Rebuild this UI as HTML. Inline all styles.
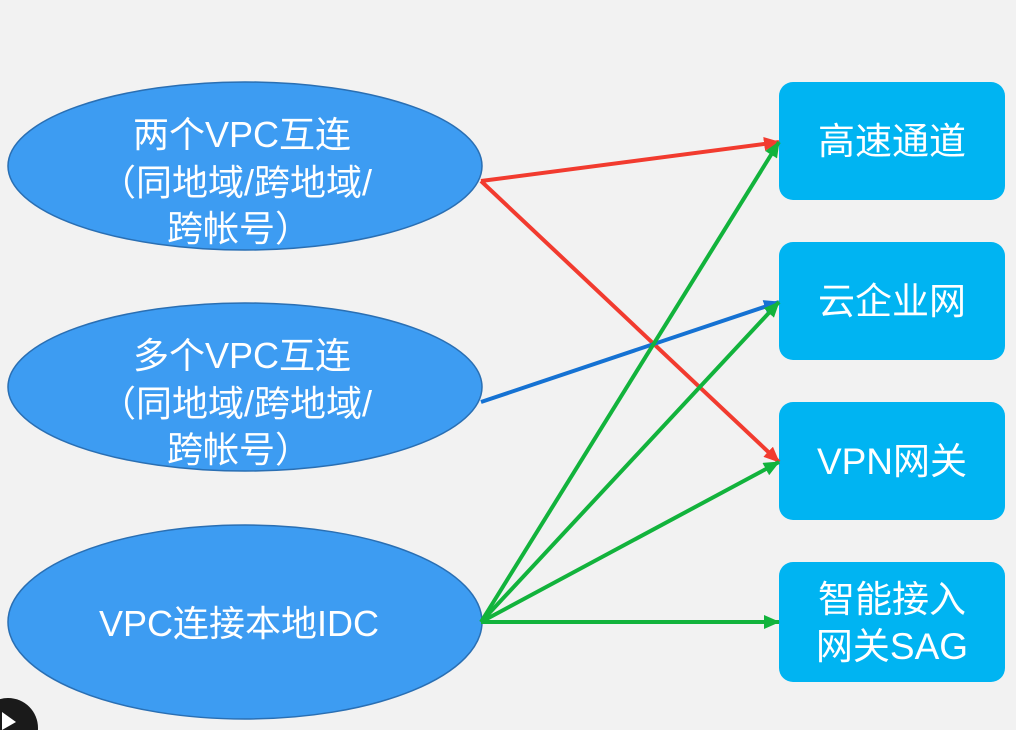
<!DOCTYPE html>
<html><head><meta charset="utf-8"><style>
html,body{margin:0;padding:0;background:#f2f2f2;}
body{width:1016px;height:730px;overflow:hidden;position:relative;font-family:"Liberation Sans","Noto Sans CJK SC",sans-serif;}
svg{position:absolute;left:0;top:0;}
text{font-family:"Liberation Sans","Noto Sans CJK SC",sans-serif;fill:#fff;font-size:36px;}
.b{font-size:37px;}
</style></head><body>
<svg width="1016" height="730" viewBox="0 0 1016 730">
<defs>
<marker id="ar" markerWidth="16" markerHeight="14" refX="15" refY="7" orient="auto" markerUnits="userSpaceOnUse"><path d="M0,0 L16,7 L0,14 z" fill="#f23b2f"/></marker>
<marker id="ab" markerWidth="16" markerHeight="14" refX="15" refY="7" orient="auto" markerUnits="userSpaceOnUse"><path d="M0,0 L16,7 L0,14 z" fill="#1572d3"/></marker>
<marker id="ag" markerWidth="16" markerHeight="14" refX="15" refY="7" orient="auto" markerUnits="userSpaceOnUse"><path d="M0,0 L16,7 L0,14 z" fill="#12b33c"/></marker>
</defs>
<ellipse cx="245" cy="166" rx="237" ry="84" fill="#3d9cf2" stroke="#2a6fb3" stroke-width="1.5"/>
<ellipse cx="245" cy="387" rx="237" ry="84" fill="#3d9cf2" stroke="#2a6fb3" stroke-width="1.5"/>
<ellipse cx="245" cy="622" rx="237" ry="97" fill="#3d9cf2" stroke="#2a6fb3" stroke-width="1.5"/>
<g fill="#00b4f2">
<rect x="779" y="82" width="226" height="118" rx="14"/>
<rect x="779" y="242" width="226" height="118" rx="14"/>
<rect x="779" y="402" width="226" height="118" rx="14"/>
<rect x="779" y="562" width="226" height="120" rx="14"/>
</g>
<g stroke-width="4" fill="none">
<line x1="481" y1="181" x2="779" y2="142" stroke="#f23b2f" marker-end="url(#ar)"/>
<line x1="481" y1="181" x2="779" y2="462" stroke="#f23b2f" marker-end="url(#ar)"/>
<line x1="481" y1="402" x2="779" y2="302" stroke="#1572d3" marker-end="url(#ab)"/>
<line x1="481" y1="622" x2="779" y2="142" stroke="#12b33c" marker-end="url(#ag)"/>
<line x1="481" y1="622" x2="779" y2="302" stroke="#12b33c" marker-end="url(#ag)"/>
<line x1="481" y1="622" x2="779" y2="462" stroke="#12b33c" marker-end="url(#ag)"/>
<line x1="481" y1="622" x2="779" y2="622" stroke="#12b33c" marker-end="url(#ag)"/>
</g>
<text x="133" y="147">两个VPC互连</text>
<text x="100" y="195">（同地域/跨地域/</text>
<text x="167" y="241">跨帐号）</text>
<text x="133" y="368">多个VPC互连</text>
<text x="100" y="416">（同地域/跨地域/</text>
<text x="167" y="462">跨帐号）</text>
<text x="99" y="636">VPC连接本地IDC</text>
<text class="b" x="892" y="154" text-anchor="middle">高速通道</text>
<text class="b" x="892" y="314" text-anchor="middle">云企业网</text>
<text class="b" x="892" y="474" text-anchor="middle">VPN网关</text>
<text class="b" x="892" y="612" text-anchor="middle">智能接入</text>
<text class="b" x="892" y="659" text-anchor="middle">网关SAG</text>
<circle cx="8" cy="728" r="30" fill="#1a1a1a"/>
<path d="M2,712 L16,722 L2,730 z" fill="#fff"/>
</svg>
</body></html>
